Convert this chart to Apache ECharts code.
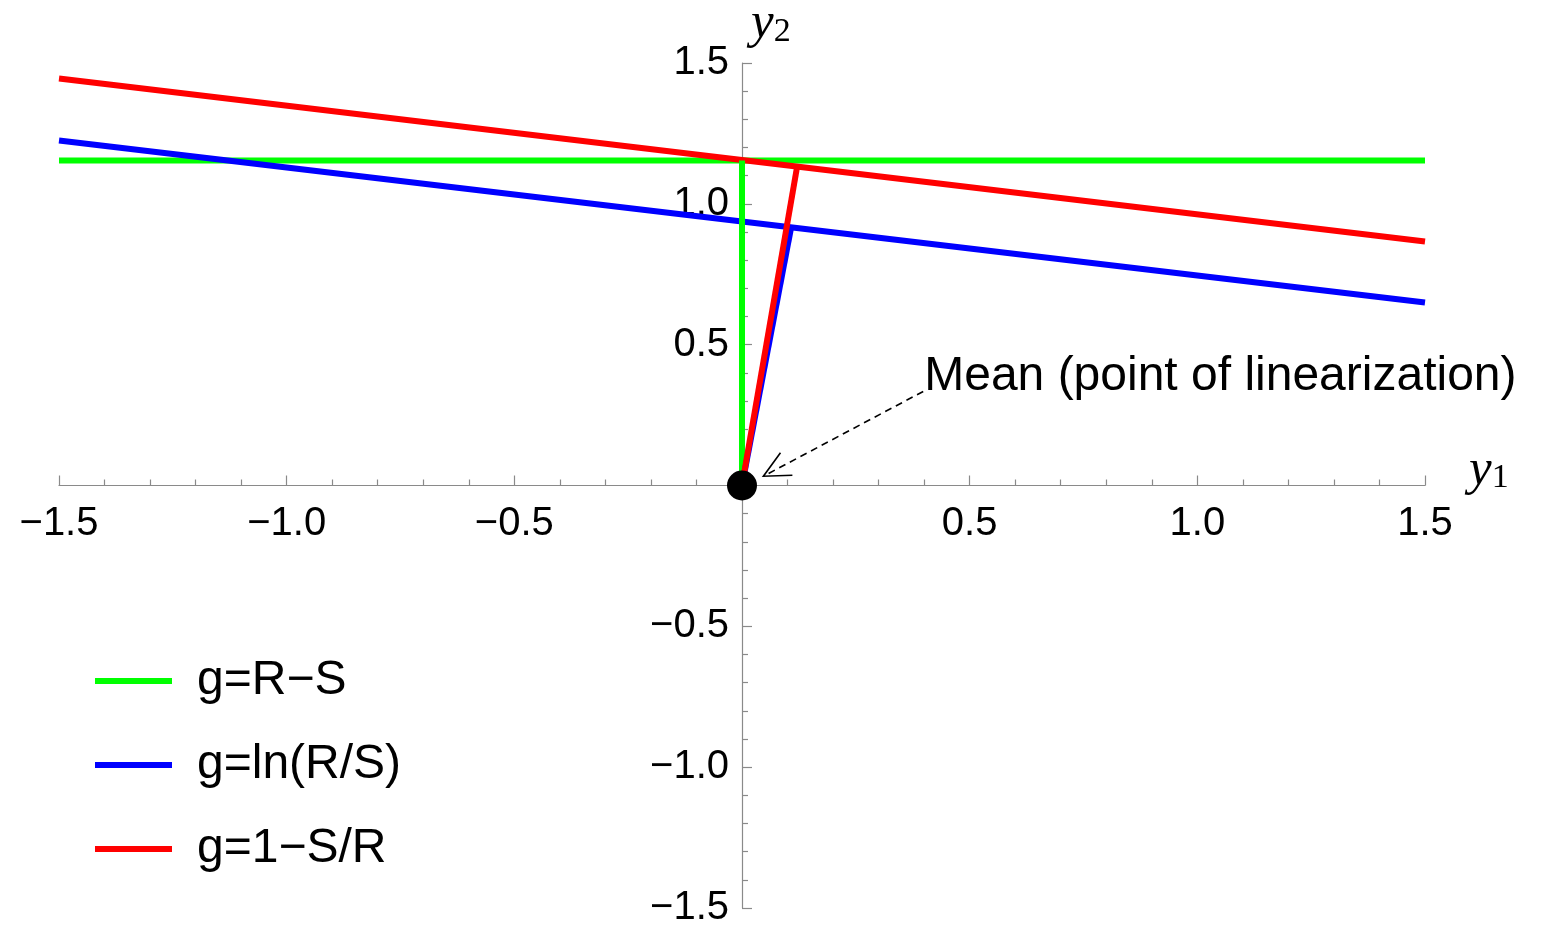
<!DOCTYPE html>
<html>
<head>
<meta charset="utf-8">
<script src="https://cdn.jsdelivr.net/npm/echarts@6/dist/echarts.min.js"></script>
<style>
html,body{margin:0;padding:0;background:#fff;}
#chart{width:1544px;height:926px;}
</style>
</head>
<body>
<div id="chart"></div>
<script>
// ---- data ----
var seriesNames = ['g=R\u2212S', 'g=ln(R/S)', 'g=1\u2212S/R'];
var seriesColors = ['#00ff00', '#0000ff', '#ff0000'];
// straight lines across the plot: [x, y] endpoints
var greenLine = [[-1.5, 1.154], [1.5, 1.154]];
var blueLine = [[-1.5, 1.225], [1.5, 0.650]];
var redLine = [[-1.5, 1.445], [1.5, 0.866]];
// segments from the mean to the design points
var greenSeg = [[0, 0], [0, 1.154]];
var blueSeg = [[0, 0], [0.108, 0.917]];
var redSeg = [[0, 0], [0.121, 1.132]];
// mean point
var meanPoint = [[0, 0]];
// annotation: tail (x,y), tip (x,y)
var arrowData = [[0.398, 0.334, 0.047, 0.033]];
var annotationText = 'Mean (point of linearization)';
// tick labels
var xTickLabels = [-1.5, -1.0, -0.5, 0.5, 1.0, 1.5];
var yTickLabels = [-1.5, -1.0, -0.5, 0.5, 1.0, 1.5];

var AX = '#8a8a8a';
var SANS = '"Liberation Sans", Arial, sans-serif';
var SERIF = '"Liberation Serif", "Times New Roman", serif';

var GRID = {left: 59, right: 119, top: 63, bottom: 18};
var W = 1544, H = 926;
// place the axes through the origin (layout offsets)
var xAxisOffset = -((H - GRID.top - GRID.bottom) / 2);
var yAxisOffset = -((W - GRID.left - GRID.right) / 2);

function fmt(list) {
  return function (v) {
    for (var i = 0; i < list.length; i++) {
      if (Math.abs(list[i] - v) < 1e-9) return v.toFixed(1).replace('-', '\u2212');
    }
    return '';
  };
}

var chart = echarts.init(document.getElementById('chart'), null, {renderer: 'canvas'});

function lineSeries(name, color, data) {
  return {
    type: 'line', name: name, data: data, showSymbol: false, symbol: 'none',
    lineStyle: {color: color, width: 6}, itemStyle: {color: color},
    animation: false, clip: false, silent: true
  };
}

var nameRich = {
  a: {fontFamily: SERIF, fontStyle: 'italic', fontSize: 51, color: '#000', lineHeight: 50},
  b: {fontFamily: SERIF, fontSize: 34, color: '#000', verticalAlign: 'bottom', lineHeight: 36}
};

var option = {
  animation: false,
  backgroundColor: '#ffffff',
  grid: {left: GRID.left, right: GRID.right, top: GRID.top, bottom: GRID.bottom, containLabel: false, outerBoundsMode: 'none'},
  xAxis: {
    type: 'value', min: -1.5, max: 1.5, interval: 0.5, position: 'bottom', offset: xAxisOffset,
    axisLine: {onZero: false, lineStyle: {color: AX, width: 1.2}},
    axisTick: {show: true, inside: true, length: 10, lineStyle: {color: AX, width: 1.2}},
    minorTick: {show: true, splitNumber: 5, length: 6, lineStyle: {color: AX, width: 1.2}},
    splitLine: {show: false},
    axisLabel: {formatter: fmt(xTickLabels), fontFamily: SANS, fontSize: 40, color: '#000', margin: 18, showMinLabel: true, showMaxLabel: true, hideOverlap: false},
    name: '{a|y}{b|1}',
    nameLocation: 'end', nameGap: 44,
    nameTextStyle: {verticalAlign: 'middle', padding: [0, 0, 30, 0], rich: nameRich}
  },
  yAxis: {
    type: 'value', min: -1.5, max: 1.5, interval: 0.5, position: 'left', offset: yAxisOffset,
    axisLine: {onZero: false, lineStyle: {color: AX, width: 1.2}},
    axisTick: {show: true, inside: true, length: 10, lineStyle: {color: AX, width: 1.2}},
    minorTick: {show: true, splitNumber: 5, length: 6, lineStyle: {color: AX, width: 1.2}},
    splitLine: {show: false},
    axisLabel: {formatter: fmt(yTickLabels), fontFamily: SANS, fontSize: 40, color: '#000', margin: 13, showMinLabel: true, showMaxLabel: true, hideOverlap: false},
    name: '{a|y}{b|2}',
    nameLocation: 'end', nameGap: 14,
    nameTextStyle: {align: 'left', padding: [0, 0, 0, 9], rich: nameRich}
  },
  legend: {
    orient: 'vertical', left: 90, top: 652,
    data: seriesNames, selectedMode: false,
    icon: 'rect', itemWidth: 77, itemHeight: 6, itemGap: 36,
    textStyle: {fontFamily: SANS, fontSize: 48, color: '#000', lineHeight: 44, padding: [0, 0, 0, 20]}
  },
  series: [
    lineSeries(seriesNames[0], seriesColors[0], greenLine),
    lineSeries(seriesNames[1], seriesColors[1], blueLine),
    lineSeries(seriesNames[2], seriesColors[2], redLine),
    lineSeries(seriesNames[0], seriesColors[0], greenSeg),
    lineSeries(seriesNames[1], seriesColors[1], blueSeg),
    lineSeries(seriesNames[2], seriesColors[2], redSeg),
    {
      type: 'scatter', data: meanPoint, symbolSize: 30, itemStyle: {color: '#000', opacity: 1},
      z: 10, silent: true, clip: false
    },
    {
      type: 'custom', data: arrowData, z: 11, silent: true, clip: false,
      renderItem: function (params, api) {
        var tail = api.coord([api.value(0), api.value(1)]);
        var tip = api.coord([api.value(2), api.value(3)]);
        var ang = Math.atan2(tail[1] - tip[1], tail[0] - tip[0]);
        var wl = 29, wa = 26 * Math.PI / 180;
        var w1 = [tip[0] + wl * Math.cos(ang - wa), tip[1] + wl * Math.sin(ang - wa)];
        var w2 = [tip[0] + wl * Math.cos(ang + wa), tip[1] + wl * Math.sin(ang + wa)];
        return {
          type: 'group',
          children: [
            {type: 'line', shape: {x1: tail[0], y1: tail[1], x2: tip[0], y2: tip[1]},
              style: {stroke: '#000', lineWidth: 1.6, lineDash: [7, 5]}},
            {type: 'polyline', shape: {points: [w1, tip, w2]},
              style: {stroke: '#000', lineWidth: 1.6, fill: null}},
            {type: 'text', x: tail[0] + 1, y: tail[1] - 15,
              style: {text: annotationText, fontFamily: SANS, fontSize: 48, fill: '#000',
                align: 'left', verticalAlign: 'middle'}}
          ]
        };
      }
    }
  ]
};
chart.setOption(option);
</script>
</body>
</html>
